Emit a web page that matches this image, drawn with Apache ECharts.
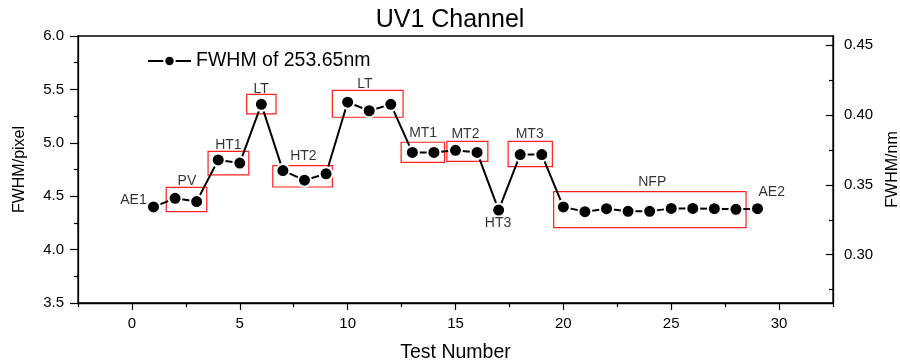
<!DOCTYPE html>
<html>
<head>
<meta charset="utf-8">
<script src="https://cdn.jsdelivr.net/npm/echarts@6/dist/echarts.min.js"></script>
<style>html,body{margin:0;padding:0;background:#fff;}#c{width:900px;height:363px;}</style>
</head>
<body>
<div id="c"></div>
<script>
const testNumbers = [1,2,3,4,5,6,7,8,9,10,11,12,13,14,15,16,17,18,19,20,21,22,23,24,25,26,27,28,29];
const fwhmPixel = [4.40,4.48,4.45,4.84,4.81,5.36,4.74,4.65,4.71,5.38,5.30,5.36,4.91,4.91,4.93,4.91,4.37,4.89,4.89,4.40,4.355,4.383,4.358,4.358,4.386,4.386,4.383,4.377,4.383];
const xTickLabels = [0,5,10,15,20,25,30];
const xMinorTicks = [-2.5,2.5,7.5,12.5,17.5,22.5,27.5,32.5];
const rightTickLabels = [0.30,0.35,0.40,0.45];
const rightMinorTicks = [0.275,0.325,0.375,0.425];
const groupNames = ['AE1','PV','HT1','LT','HT2','LT','MT1','MT2','MT3','HT3','NFP','AE2'];
const groupLabelX = [0.07,2.55,4.47,5.99,7.95,10.8,13.5,15.46,18.44,16.97,24.12,29.66];
const groupLabelY = [4.46,4.64,4.977,5.507,4.876,5.55,5.095,5.08,5.08,4.246,4.636,4.536];
const boxX1 = [1.59,3.53,5.32,6.53,9.29,12.48,14.6,17.44,19.55];
const boxX2 = [3.47,5.42,6.68,9.29,12.57,14.49,16.5,19.49,28.47];
const boxY1 = [4.583,4.92,5.454,4.786,5.49,5.005,5.014,5.014,4.542];
const boxY2 = [4.355,4.70,5.27,4.586,5.239,4.817,4.827,4.776,4.205];

const FONT = 'Liberation Sans, Arial, sans-serif';
const chart = echarts.init(document.getElementById('c'));
const lineData = testNumbers.map((x,i)=>[x,fwhmPixel[i]]);
const labelData = groupNames.map((n,i)=>[groupLabelX[i],groupLabelY[i],n]);
const boxes = boxX1.map((x,i)=>[{coord:[x,boxY1[i]]},{coord:[boxX2[i],boxY2[i]]}]);
const axisLineStyle = {color:'#000',width:1.3};
chart.setOption({
  animation:false,
  backgroundColor:'#fff',
  title:{text:'UV1 Channel',left:'center',top:3,textStyle:{fontFamily:FONT,fontWeight:'normal',fontSize:25,color:'#000'}},
  legend:{data:['FWHM of 253.65nm'],left:147,top:51,padding:0,itemWidth:43,itemHeight:13,textStyle:{fontFamily:FONT,fontSize:19.5,color:'#000'}},
  grid:{left:78,right:67,top:36,bottom:60,outerBoundsMode:'none',containLabel:false,show:true,borderColor:'#000',borderWidth:1.3},
  xAxis:[{
    type:'value',min:-2.5,max:32.5,position:'bottom',
    name:'Test Number',nameLocation:'middle',nameGap:40,nameTextStyle:{fontFamily:FONT,fontSize:19.5,color:'#000'},
    axisLine:{show:true,onZero:false,lineStyle:axisLineStyle},
    axisTick:{show:true,inside:false,length:7,customValues:xTickLabels,lineStyle:{color:'#000',width:1.2}},
    axisLabel:{show:true,customValues:xTickLabels,margin:13,fontFamily:FONT,fontSize:15,color:'#000'},
    splitLine:{show:false}
  },{
    type:'value',min:-2.5,max:32.5,position:'bottom',
    axisLine:{show:false,onZero:false},
    axisTick:{show:true,inside:false,length:4,customValues:xMinorTicks,lineStyle:{color:'#000',width:1.2}},
    axisLabel:{show:false},splitLine:{show:false}
  }],
  yAxis:[{
    type:'value',min:3.5,max:6.0,interval:0.5,position:'left',
    name:'FWHM/pixel',nameLocation:'middle',nameGap:50,nameTextStyle:{fontFamily:FONT,fontSize:16,color:'#000'},
    axisLine:{show:true,onZero:false,lineStyle:axisLineStyle},
    axisTick:{show:true,inside:false,length:8,lineStyle:{color:'#000',width:1.2}},
    minorTick:{show:true,splitNumber:2,length:4,lineStyle:{color:'#000',width:1.2}},
    axisLabel:{margin:14,fontFamily:FONT,fontSize:15,color:'#000',formatter:v=>v.toFixed(1)},
    splitLine:{show:false},minorSplitLine:{show:false}
  },{
    type:'value',min:0.2655,max:0.4564,position:'right',
    name:'FWHM/nm',nameLocation:'middle',nameGap:48,nameRotate:90,nameTextStyle:{fontFamily:FONT,fontSize:16,color:'#000'},
    axisLine:{show:true,onZero:false,lineStyle:axisLineStyle},
    axisTick:{show:true,inside:true,length:7,customValues:rightTickLabels,lineStyle:{color:'#000',width:1.2}},
    axisLabel:{show:true,customValues:rightTickLabels,margin:11,fontFamily:FONT,fontSize:15,color:'#000',formatter:v=>v.toFixed(2)},
    splitLine:{show:false}
  },{
    type:'value',min:0.2655,max:0.4564,position:'right',
    axisLine:{show:false,onZero:false},
    axisTick:{show:true,inside:true,length:4,customValues:rightMinorTicks,lineStyle:{color:'#000',width:1.2}},
    axisLabel:{show:false},splitLine:{show:false}
  }],
  series:[{
    name:'FWHM of 253.65nm',type:'line',xAxisIndex:0,yAxisIndex:0,data:lineData,
    symbol:'circle',symbolSize:13,showAllSymbol:true,
    lineStyle:{color:'#000',width:2},itemStyle:{color:'#000',borderColor:'#fff',borderWidth:2},
    markArea:{silent:true,itemStyle:{color:'rgba(0,0,0,0)',borderColor:'#ff2020',borderWidth:1.2},label:{show:false},data:boxes},
    z:3
  },{
    name:'labels',type:'scatter',xAxisIndex:0,yAxisIndex:0,data:labelData,
    symbolSize:0,itemStyle:{color:'#000'},silent:true,
    label:{show:true,position:'inside',formatter:p=>p.data[2],fontFamily:FONT,fontSize:14,color:'#000'},
    z:4
  }]
});
</script>
</body>
</html>
